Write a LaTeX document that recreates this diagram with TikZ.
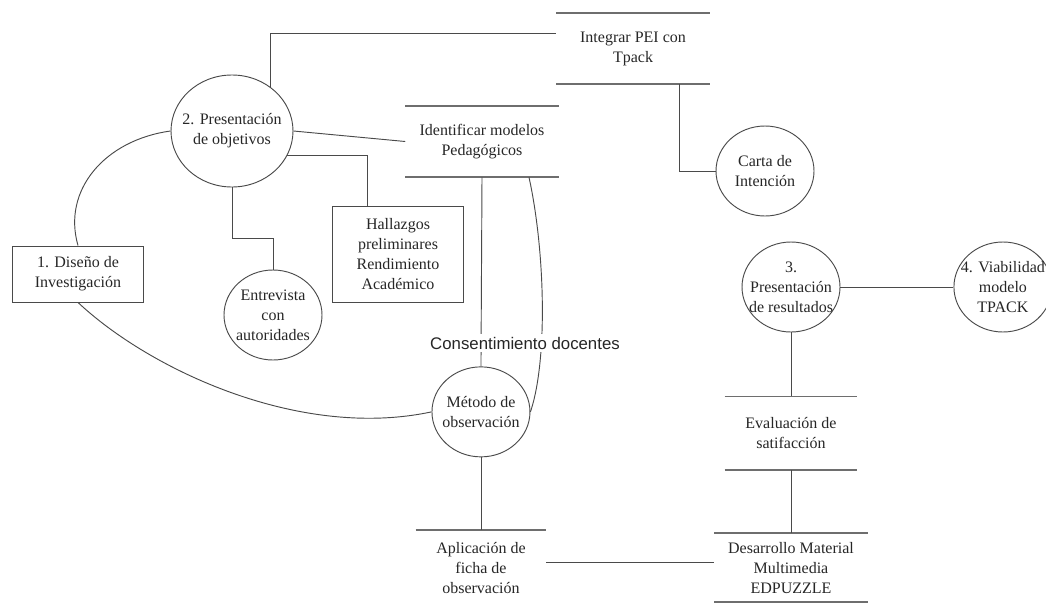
\documentclass[tikz,border=0pt]{standalone}
\usepackage{fontspec}
\setmainfont{Liberation Serif}
\newfontfamily\labelfont{Liberation Sans}
\usetikzlibrary{positioning,shapes.geometric}

\definecolor{linegray}{HTML}{4A4A4A}
\definecolor{storegray}{HTML}{6E6E6E}

\begin{document}
\begin{tikzpicture}[
		x=0.75pt, y=-0.75pt,
		every node/.style={font=\fontsize{12}{15}\selectfont, align=center, text=black!85},
		proc/.style={ellipse, draw=linegray, line width=0.7pt, minimum width=73.5pt, minimum height=67.5pt, inner sep=-10pt},
		bigproc/.style={proc, minimum width=91.5pt, minimum height=84pt},
		ext/.style={rectangle, draw=linegray, line width=0.7pt, minimum width=98.6pt},
		store/.style={rectangle, minimum width=114.75pt, minimum height=53.25pt},
		storeline/.style={draw=storegray, line width=1.4pt},
		conn/.style={draw=linegray, line width=0.7pt},
		lbl/.style={fill=white, inner sep=2pt, font=\labelfont\fontsize{12.6}{15}\selectfont}
	]
	\useasboundingbox (0,0) rectangle (1046,603);

	% Nodes
	\node[bigproc] (obj) at (232,131) {2. Presentación\\de objetivos};
	\node[ext, minimum height=42pt] (dis) at (78,274) {1. Diseño de\\Investigación};
	\node[ext, minimum height=72pt] (hal) at (398,254) {Hallazgos\\preliminares\\Rendimiento\\Académico};
	\node[proc] (ent) at (273,315) {Entrevista\\con\\autoridades};
	\node[store] (int) at (633,48.5) {Integrar PEI con\\Tpack};
	\node[store] (idm) at (482,141.5) {Identificar modelos\\Pedagógicos};
	\node[proc] (car) at (765,171) {Carta de\\Intención};
	\node[proc] (res) at (791,287) {3.\\Presentación\\de resultados};
	\node[proc, right=84.75pt of res] (via) {4. Viabilidad\\modelo\\TPACK};
	\node[store, minimum width=99pt, minimum height=54.75pt, below=48pt of res] (eva) {Evaluación de\\satifacción};
	\node[store, minimum height=51.5pt, below=47.25pt of eva] (des) {Desarrollo Material\\Multimedia\\EDPUZZLE};
	\node[store, minimum width=97.5pt, minimum height=55.5pt, left=126pt of des] (apl) {Aplicación de\\ficha de\\observación};
	\node[proc, above=54.75pt of apl] (met) {Método de\\observación};

	% Store lines
	\foreach \s in {int,idm,eva,des}
		\draw[storeline] (\s.north west) -- (\s.north east) (\s.south west) -- (\s.south east);
	\draw[storeline] (apl.north west) -- (apl.north east);

	% Connectors
	\draw[conn] (obj.49) |- (int.west |- 0,33);
	\draw[conn] (obj.east) -- (idm.west);
	\draw[conn] (obj.-24) -| (hal.north -| 367,0);
	\draw[conn] (obj.south) -- ++(0,51) -| (ent.north);
	\draw[conn] (obj.west) .. controls (105,140) and (62,190) .. (dis.north);
	\draw[conn] (dis.south) .. controls (150,370) and (300,440) .. (met.west);
	\draw[conn] (idm.south -| 529,0) .. controls (545,250) and (548,360) .. (met.east);
	\draw[conn] (idm.south) -- (met.north);
	\draw[conn] (met.south) -- (apl.north);
	\draw[conn] ([yshift=3.75pt]apl.east) -- ([yshift=3.75pt]des.west);
	\draw[conn] (eva.south) -- (des.north);
	\draw[conn] (res.south) -- (eva.north);
	\draw[conn] (res.east) -- (via.west);
	\draw[conn] (int.south -| 679,0) |- (car.west);

	\node[lbl] (cons) at (525,343) {Consentimiento docentes};

\end{tikzpicture}
\end{document}
